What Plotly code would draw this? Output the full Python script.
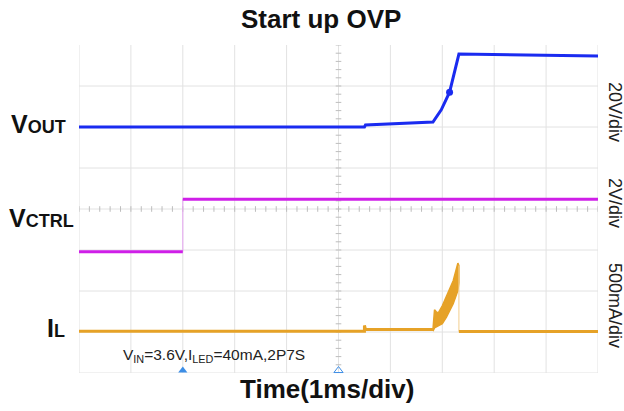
import plotly.graph_objects as go
import numpy as np

# ---------------- data (in screen divisions: x 0..10, y 0..8) ----------------
vout_t = [0.00, 5.50, 5.52, 6.20, 6.82, 6.98, 7.14, 7.32, 8.60, 10.00]
vout_v = [6.00, 6.00, 6.05, 6.08, 6.12, 6.42, 6.85, 7.78, 7.76, 7.73]
vout_dot_t = [7.14]
vout_dot_v = [6.85]

vctrl_t = [0.00, 2.00, 2.00, 10.00]
vctrl_v = [2.96, 2.96, 4.24, 4.24]

il_base_t = [0.00, 5.50, 5.50, 5.52, 5.52, 6.82]
il_base_v = [1.02, 1.02, 1.16, 1.06, 1.06, 1.06]
il_spk_t = [6.82, 6.85, 6.88, 6.92, 7.00, 7.08, 7.21, 7.30, 7.32]
il_spk_hi = [1.06, 1.54, 1.50, 1.46, 1.64, 1.89, 2.25, 2.68, 2.62]
il_spk_lo = [1.02, 1.10, 1.12, 1.14, 1.20, 1.36, 1.69, 2.01, 2.20]
il_after_t = [7.32, 7.32, 10.00]
il_after_v = [2.62, 1.01, 1.01]

ch_marker_v = [5.81, 2.96, 1.03]  # VOUT, VCTRL, IL ground markers
trig_t = [2.0, 5.0]

scale_labels = ["20V/div", "2V/div", "500mA/div"]
scale_label_py = [112, 203, 305]

# ---------------- styling ----------------
W, H = 624, 411
L, R, T, B = 79, 26, 45, 38
PW, PH = W - L - R, H - T - B
FONT = "Liberation Sans, Arial, sans-serif"
BLUE = "#1A2BF0"
MAG = "#CF1FE8"
ORANGE = "#E6A227"
GRID = "#E2E2E2"


def px_x(px):
    return (px - L) / PW


def px_y(py):
    return (H - B - py) / PH


fig = go.Figure()

# center line minor ticks
tk = np.round(np.arange(0, 10.001, 0.2), 2)
fig.add_trace(go.Scatter(x=tk, y=[4] * len(tk), mode="markers",
                         marker=dict(symbol="line-ns", size=4, line=dict(width=1, color="#BDBDBD")),
                         hoverinfo="skip", showlegend=False))
tky = np.round(np.arange(0, 8.001, 0.2), 2)
fig.add_trace(go.Scatter(x=[5] * len(tky), y=tky, mode="markers",
                         marker=dict(symbol="line-ew", size=4, line=dict(width=1, color="#BDBDBD")),
                         hoverinfo="skip", showlegend=False))

# VCTRL: thin edge + thick levels
fig.add_trace(go.Scatter(x=vctrl_t, y=vctrl_v, mode="lines",
                         line=dict(color="#E7A6F3", width=1), showlegend=False))
fig.add_trace(go.Scatter(x=vctrl_t[:2], y=vctrl_v[:2], mode="lines",
                         line=dict(color=MAG, width=3), showlegend=False))
fig.add_trace(go.Scatter(x=vctrl_t[2:], y=vctrl_v[2:], mode="lines",
                         line=dict(color=MAG, width=3), showlegend=False))

# IL
fig.add_trace(go.Scatter(x=il_base_t, y=il_base_v, mode="lines",
                         line=dict(color=ORANGE, width=3), showlegend=False))
fig.add_trace(go.Scatter(x=il_spk_t + il_spk_t[::-1], y=il_spk_hi + il_spk_lo[::-1],
                         mode="lines", fill="toself", fillcolor=ORANGE,
                         line=dict(color=ORANGE, width=1.5), showlegend=False))
fig.add_trace(go.Scatter(x=il_after_t[:2], y=il_after_v[:2], mode="lines",
                         line=dict(color="#F2CF8E", width=1), showlegend=False))
fig.add_trace(go.Scatter(x=il_after_t[1:], y=il_after_v[1:], mode="lines",
                         line=dict(color=ORANGE, width=3), showlegend=False))

# VOUT
fig.add_trace(go.Scatter(x=vout_t, y=vout_v, mode="lines",
                         line=dict(color=BLUE, width=3), showlegend=False))
fig.add_trace(go.Scatter(x=vout_dot_t, y=vout_dot_v, mode="markers",
                         marker=dict(color=BLUE, size=7), showlegend=False))

# channel ground markers at left edge
fig.add_trace(go.Scatter(x=[-0.04] * 3, y=ch_marker_v, mode="markers",
                         marker=dict(symbol="triangle-right", size=7, color=[BLUE, MAG, ORANGE]),
                         cliponaxis=False, showlegend=False))
# trigger markers at bottom
fig.add_trace(go.Scatter(x=trig_t[:1], y=[0.06], mode="markers",
                         marker=dict(symbol="triangle-up", size=8, color="#3D8EE6"),
                         cliponaxis=False, showlegend=False))
fig.add_trace(go.Scatter(x=trig_t[1:], y=[0.06], mode="markers",
                         marker=dict(symbol="triangle-up-open", size=8, color="#3D8EE6",
                                     line=dict(width=1)),
                         cliponaxis=False, showlegend=False))

# grid lines as shapes
shapes = []
for i in range(11):
    shapes.append(dict(type="line", xref="x", yref="y", x0=i, x1=i, y0=0, y1=8,
                       line=dict(color=GRID, width=1), layer="below"))
for j in range(8):
    shapes.append(dict(type="line", xref="x", yref="y", x0=0, x1=10, y0=j, y1=j,
                       line=dict(color=GRID, width=1), layer="below"))

ann = []
ann.append(dict(text="<b>Start up OVP</b>", x=px_x(321), y=px_y(19), xref="paper", yref="paper",
                showarrow=False, font=dict(family=FONT, size=26, color="#111"),
                xanchor="center", yanchor="middle"))
ann.append(dict(text="<b>Time(1ms/div)</b>", x=px_x(327), y=px_y(389), xref="paper", yref="paper",
                showarrow=False, font=dict(family=FONT, size=26, color="#111"),
                xanchor="center", yanchor="middle"))
ann.append(dict(text="<b>V<span style='font-size:18px'>OUT</span></b>", x=px_x(9), y=px_y(124),
                xref="paper", yref="paper", showarrow=False,
                font=dict(family=FONT, size=25, color="#111"), xanchor="left", yanchor="middle"))
ann.append(dict(text="<b>V<span style='font-size:18px'>CTRL</span></b>", x=px_x(7), y=px_y(218),
                xref="paper", yref="paper", showarrow=False,
                font=dict(family=FONT, size=25, color="#111"), xanchor="left", yanchor="middle"))
ann.append(dict(text="<b>I<span style='font-size:18px'>L</span></b>", x=px_x(45), y=px_y(328),
                xref="paper", yref="paper", showarrow=False,
                font=dict(family=FONT, size=25, color="#111"), xanchor="left", yanchor="middle"))
ann.append(dict(text="V<sub>IN</sub>=3.6V,I<sub>LED</sub>=40mA,2P7S", x=px_x(121), y=px_y(355),
                xref="paper", yref="paper", showarrow=False,
                font=dict(family=FONT, size=15.5, color="#222"), xanchor="left", yanchor="middle"))
for lab, py in zip(scale_labels, scale_label_py):
    ann.append(dict(text=lab, x=px_x(615), y=px_y(py), xref="paper", yref="paper",
                    showarrow=False, textangle=90,
                    font=dict(family=FONT, size=18, color="#222"),
                    xanchor="center", yanchor="middle"))

fig.update_layout(
    width=W, height=H, margin=dict(l=L, r=R, t=T, b=B, pad=0),
    paper_bgcolor="white", plot_bgcolor="white",
    xaxis=dict(range=[0, 10], showgrid=False, zeroline=False, showticklabels=False,
               ticks="", showline=False, fixedrange=True),
    yaxis=dict(range=[0, 8], showgrid=False, zeroline=False, showticklabels=False,
               ticks="", showline=False, fixedrange=True),
    shapes=shapes, annotations=ann, showlegend=False, hovermode=False,
)

fig.write_html("out.html", config={"displayModeBar": False, "staticPlot": True},
               post_script="document.body.style.margin='0px';")
